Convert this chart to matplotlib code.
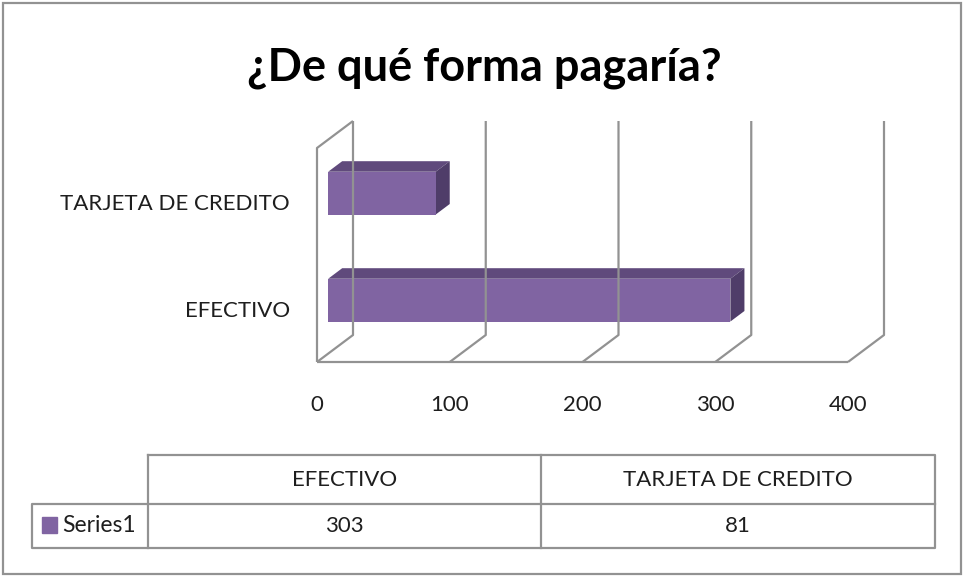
import matplotlib.pyplot as plt
from matplotlib.patches import Polygon, Rectangle

plt.rcParams['font.family'] = ['Lato', 'DejaVu Sans']

titulo = "¿De qué forma pagaría?"
categorias = ["EFECTIVO", "TARJETA DE CREDITO"]
valores = [303, 81]
serie = "Series1"
ticks = [0, 100, 200, 300, 400]

MORADO = '#8064A2'
MORADO_ARRIBA = '#604A7C'
MORADO_LADO = '#4F3D69'
GRIS = '#929292'
TEXTO = '#1e1e1e'

W, H = 965, 578
fig = plt.figure(figsize=(W / 100, H / 100), dpi=100)

# fondo en pixeles: borde, titulo y tabla
bg = fig.add_axes([0, 0, 1, 1])
bg.set_xlim(0, W)
bg.set_ylim(H, 0)
bg.axis('off')
bg.add_patch(Rectangle((3, 3), W - 7, H - 7, fill=False, edgecolor=GRIS, lw=1.6))
bg.text(484, 68, titulo, ha='center', va='center', fontsize=32.5, fontweight='bold')

# tabla de datos
fila1, fila2, fila3 = 455, 504, 548
col = [32, 148, 541, 935]
bg.plot([col[1], col[3], col[3], col[0], col[0], col[3]],
        [fila1, fila1, fila3, fila3, fila2, fila2], color=GRIS, lw=1.6)
bg.plot([col[1], col[1]], [fila1, fila3], color=GRIS, lw=1.6)
bg.plot([col[2], col[2]], [fila1, fila3], color=GRIS, lw=1.6)
for i, (cat, v) in enumerate(zip(categorias, valores)):
    xc = (col[i + 1] + col[i + 2]) / 2
    bg.text(xc, (fila1 + fila2) / 2, cat, ha='center', va='center', fontsize=16, color=TEXTO)
    bg.text(xc, (fila2 + fila3) / 2, str(v), ha='center', va='center', fontsize=16, color=TEXTO)
bg.add_patch(Rectangle((42, 517), 15, 16, color=MORADO))
bg.text(62, (fila2 + fila3) / 2, serie, ha='left', va='center', fontsize=16.5, color=TEXTO)

# area del grafico 3D (plano frontal)
x0p, x1p, ytop, ybot = 317, 848, 148, 362
ax = fig.add_axes([x0p / W, (H - ybot) / H, (x1p - x0p) / W, (ybot - ytop) / H])
ax.set_xlim(0, 400)
ax.set_ylim(0, 2)
ax.axis('off')
ax.patch.set_alpha(0)

DX = 36 / ((x1p - x0p) / 400.0)
DY = 27 / ((ybot - ytop) / 2.0)

kw = dict(color=GRIS, lw=1.6, clip_on=False, solid_capstyle='butt')
ax.plot([0, 400], [0, 0], **kw)
ax.plot([0, 0, DX], [0, 2, 2 + DY], **kw)
for t in ticks:
    ax.plot([t, t + DX, t + DX], [0, DY, 2 + DY], **kw)
    ax.text(t, -0.40, str(t), ha='center', va='center', fontsize=16, color=TEXTO)

d0, d1, alto = 0.31, 0.70, 0.40
dd = d1 - d0
for i, (cat, v) in enumerate(zip(categorias, valores)):
    c = i + 0.5
    bx = d0 * DX
    by = c - alto / 2 + d0 * DY
    ax.add_patch(Polygon([(bx, by + alto), (bx + v, by + alto),
                          (bx + v + dd * DX, by + alto + dd * DY),
                          (bx + dd * DX, by + alto + dd * DY)],
                         closed=True, facecolor=MORADO_ARRIBA, edgecolor='none', clip_on=False))
    ax.add_patch(Polygon([(bx + v, by), (bx + v, by + alto),
                          (bx + v + dd * DX, by + alto + dd * DY),
                          (bx + v + dd * DX, by + dd * DY)],
                         closed=True, facecolor=MORADO_LADO, edgecolor='none', clip_on=False))
    ax.add_patch(Rectangle((bx, by), v, alto, facecolor=MORADO, edgecolor='none', clip_on=False))
    ax.text(-20.3, c - 0.02, cat, ha='right', va='center', fontsize=16, color=TEXTO)

fig.savefig("out.png", dpi=100)
